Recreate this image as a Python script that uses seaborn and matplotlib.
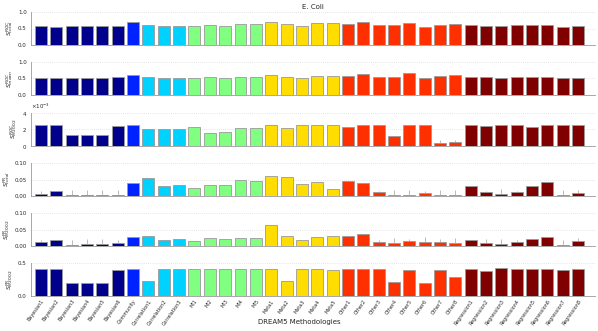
import numpy as np
import pandas as pd
import matplotlib
matplotlib.use("Agg")
import matplotlib.pyplot as plt
import seaborn as sns

sns.set_style("white")
plt.rcParams['font.family'] = ['DejaVu Sans']

# --- data ---
methods = (['Bayesian%d' % i for i in range(1, 7)] + ['Community'] +
           ['Correlation%d' % i for i in range(1, 4)] +
           ['MI%d' % i for i in range(1, 6)] +
           ['Meta%d' % i for i in range(1, 6)] +
           ['Other%d' % i for i in range(1, 9)] +
           ['Regression%d' % i for i in range(1, 9)])
groups = (['Bayesian'] * 6 + ['Community'] + ['Correlation'] * 3 + ['MI'] * 5 +
          ['Meta'] * 5 + ['Other'] * 8 + ['Regression'] * 8)
group_colors = {'Bayesian': '#00008C', 'Community': '#0022FF', 'Correlation': '#00D2FF',
                'MI': '#80FF80', 'Meta': '#FFDD00', 'Other': '#FF3000', 'Regression': '#800000'}

roc_total = [0.57, 0.54, 0.59, 0.57, 0.57, 0.59, 0.69, 0.62, 0.59, 0.59, 0.59, 0.61, 0.59, 0.64, 0.64,
             0.70, 0.64, 0.59, 0.66, 0.66, 0.65, 0.69, 0.60, 0.62, 0.68, 0.55, 0.60, 0.65,
             0.62, 0.59, 0.57, 0.60, 0.61, 0.60, 0.55, 0.59]
roc_mean = [0.53, 0.51, 0.53, 0.53, 0.53, 0.54, 0.61, 0.56, 0.53, 0.53, 0.53, 0.55, 0.53, 0.55, 0.55,
            0.62, 0.56, 0.53, 0.59, 0.59, 0.57, 0.64, 0.56, 0.56, 0.66, 0.53, 0.59, 0.62,
            0.55, 0.55, 0.52, 0.54, 0.54, 0.55, 0.53, 0.53]
roc_m2002 = [2.43, 2.43, 1.28, 1.32, 1.32, 2.35, 2.43, 2.06, 1.94, 1.94, 2.19, 1.48, 1.61, 2.10, 2.10,
             2.43, 2.10, 2.43, 2.43, 2.43, 2.19, 2.43, 2.43, 1.11, 2.43, 2.43, 0.25, 0.41,
             2.43, 2.35, 2.43, 2.43, 2.30, 2.43, 2.43, 2.43]
roc_m2002_err = [0] * 26 + [0.4, 0.3] + [0] * 8
pr_total = [0.006, 0.014, 0.002, 0.002, 0.002, 0.002, 0.039, 0.056, 0.031, 0.033, 0.024, 0.032, 0.032,
            0.050, 0.044, 0.060, 0.059, 0.035, 0.041, 0.020, 0.046, 0.039, 0.012, 0.004, 0.004,
            0.009, 0.002, 0.003, 0.029, 0.011, 0.006, 0.012, 0.030, 0.042, 0.002, 0.008]
pr_total_err = [0.01, 0.002, 0.015, 0.015, 0.015, 0.015, 0, 0, 0, 0, 0, 0, 0, 0, 0,
                0, 0, 0, 0, 0, 0, 0, 0.004, 0.015, 0.015, 0.006, 0.015, 0.015,
                0, 0.005, 0.015, 0.004, 0, 0, 0.015, 0.01]
pr_m2002 = [0.013, 0.017, 0.004, 0.005, 0.005, 0.009, 0.026, 0.029, 0.019, 0.021, 0.016, 0.024, 0.022,
            0.024, 0.024, 0.064, 0.031, 0.019, 0.026, 0.029, 0.029, 0.036, 0.013, 0.010, 0.016,
            0.011, 0.012, 0.010, 0.019, 0.010, 0.006, 0.012, 0.022, 0.028, 0.004, 0.015]
pr_m2002_err = [0.005, 0, 0.015, 0.015, 0.015, 0.01, 0, 0, 0, 0, 0, 0, 0, 0, 0,
                0, 0, 0, 0, 0, 0, 0, 0.005, 0.015, 0.005, 0.015, 0.01, 0.015,
                0, 0.01, 0.015, 0.005, 0, 0, 0.015, 0.01]
pr_m2002b = [0.41, 0.41, 0.20, 0.20, 0.20, 0.40, 0.41, 0.23, 0.41, 0.41, 0.41, 0.41, 0.41, 0.41, 0.41,
             0.41, 0.22, 0.41, 0.41, 0.40, 0.41, 0.41, 0.41, 0.21, 0.40, 0.20, 0.40, 0.29,
             0.41, 0.38, 0.42, 0.41, 0.41, 0.41, 0.40, 0.41]

panels = [
    (roc_total, None, 1.0, [0, 0.5, 1], '$S^{ROC}_{total}$'),
    (roc_mean, None, 1.0, [0, 0.5, 1], '$S^{ROC}_{mean}$'),
    ([v * 1e-3 for v in roc_m2002], [v * 1e-3 for v in roc_m2002_err], 0.004, [0, 0.002, 0.004],
     '$S^{ROC}_{M2002}$'),
    (pr_total, pr_total_err, 0.1, [0, 0.05, 0.1], '$S^{PR}_{total}$'),
    (pr_m2002, pr_m2002_err, 0.1, [0, 0.05, 0.1], '$S^{PR}_{M2002}$'),
    (pr_m2002b, None, 0.5, [0, 0.5], '$S^{PR}_{M2002}$'),
]

W, H = 598, 331
fig = plt.figure(figsize=(W / 100, H / 100), dpi=100)

tops = [12, 62, 112.5, 163, 213, 263]
ax_h = 33
palette = [group_colors[g] for g in groups]

for k, (vals, err, ymax, ticks, ylab) in enumerate(panels):
    ax = fig.add_axes([31 / W, 1 - (tops[k] + ax_h) / H, (595 - 31) / W, ax_h / H])
    df = pd.DataFrame({'method': methods, 'value': vals})
    sns.barplot(data=df, x='method', y='value', hue='method', palette=palette,
                legend=False, width=0.78, edgecolor='#9a9a9a', linewidth=0.6,
                saturation=1, ax=ax)
    if err is not None:
        x = np.arange(len(methods))
        ax.errorbar(x, vals, yerr=[np.zeros(len(err)), err], fmt='none',
                    ecolor='#a0a0a0', elinewidth=0.5, capsize=0)
    ax.set_xlim(-0.65, 36.1)
    ax.set_ylim(0, ymax)
    ax.set_yticks(ticks)
    for t in ticks[1:]:
        ax.axhline(t, color='#cccccc', linestyle=(0, (1, 2)), linewidth=0.5, zorder=0)
    sns.despine(ax=ax, top=True, right=True)
    for s in ['left', 'bottom']:
        ax.spines[s].set_color('#999999')
        ax.spines[s].set_linewidth(0.6)
    ax.tick_params(axis='y', labelsize=4, length=2, width=0.5, color='#999999', pad=1)
    ax.set_ylabel(ylab, fontsize=4.5, labelpad=2)
    ax.set_xlabel('')
    if k == 2:
        ax.ticklabel_format(axis='y', style='sci', scilimits=(0, 0), useMathText=True)
        ax.yaxis.get_offset_text().set_fontsize(4)
    if k == 0:
        ax.set_title('E. Coli', fontsize=5, pad=2)
    if k < 5:
        ax.set_xticks([])
    else:
        ax.set_xticks(np.arange(len(methods)))
        ax.set_xticklabels(methods, rotation=55, ha='right', rotation_mode='anchor', fontsize=3.5)
        ax.tick_params(axis='x', length=0, pad=2)

fig.text(0.5, 1 - 322 / H, 'DREAM5 Methodologies', fontsize=5, ha='center', va='center')

fig.savefig('out.png', dpi=100)
